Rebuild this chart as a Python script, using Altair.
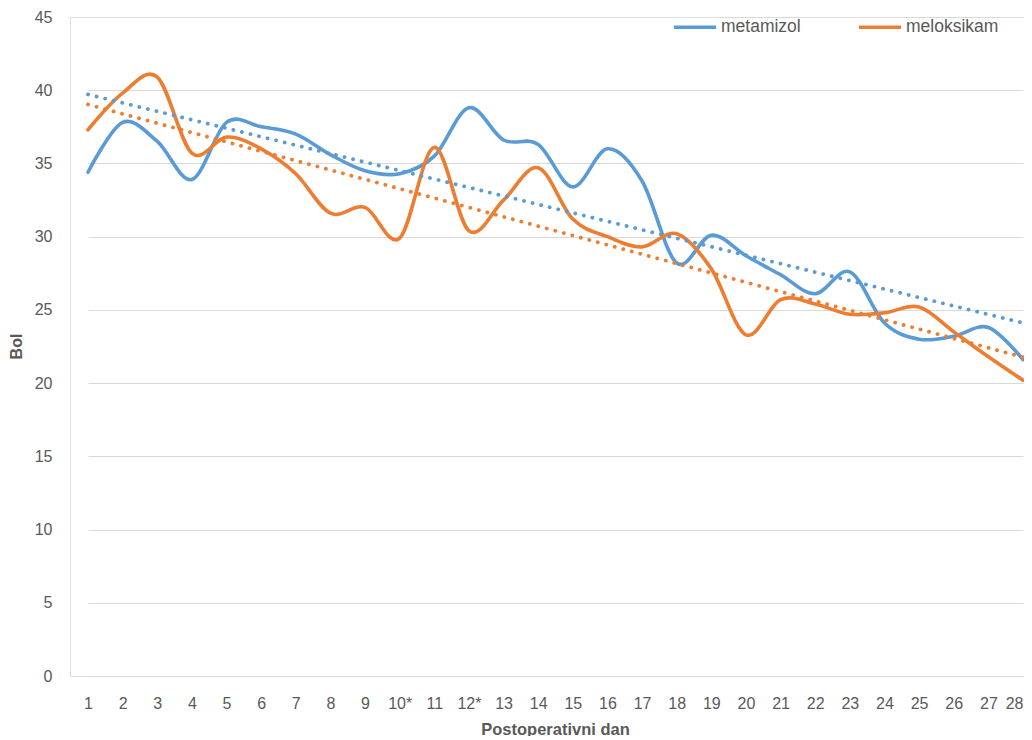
import json
import altair as alt
import pandas as pd

# ---- data ----
days = ["1", "2", "3", "4", "5", "6", "7", "8", "9", "10*", "11", "12*", "13", "14",
        "15", "16", "17", "18", "19", "20", "21", "22", "23", "24", "25", "26", "27", "28"]
metamizol = [34.4, 37.8, 36.5, 33.9, 37.8, 37.5, 37.0, 35.6, 34.5, 34.3, 35.5, 38.8, 36.6, 36.3,
             33.4, 36.0, 33.8, 28.2, 30.1, 28.7, 27.4, 26.1, 27.6, 24.1, 23.0, 23.2, 23.8, 21.6]
meloksikam = [37.3, 39.8, 40.9, 35.7, 36.8, 36.0, 34.3, 31.6, 32.0, 29.9, 36.1, 30.4, 32.5, 34.7,
              31.2, 30.0, 29.3, 30.2, 27.8, 23.3, 25.7, 25.4, 24.7, 24.8, 25.2, 23.5, 21.8, 20.2]
series_names = ["metamizol", "meloksikam"]
series_colors = ["#5B9BD5", "#ED7D31"]
y_ticks = [0, 5, 10, 15, 20, 25, 30, 35, 40, 45]

rows = []
for name, vals in zip(series_names, [metamizol, meloksikam]):
    for i, (d, v) in enumerate(zip(days, vals)):
        rows.append({"idx": i + 1, "day": d, "val": v, "series": name})
df = pd.DataFrame(rows)

FONT = "'Liberation Sans', Arial, sans-serif"
GRAY = "#595959"

x_scale = alt.Scale(type="point", domain=days, range=[18, 953], padding=0)
y_scale = alt.Scale(domain=[0, 45], nice=False, zero=True)
color_scale = alt.Scale(domain=series_names, range=series_colors)

x_axis = alt.Axis(
    labelAngle=0, labelOverlap=False,
    labelAlign={"condition": {"test": f"datum.value == '{days[-1]}'", "value": "right"}, "value": "center"},
    grid=False, domain=False, domainColor="#FFFFFF", domainWidth=0,
    ticks=False, tickSize=0,
    labelPadding=19, labelFontSize=16, labelColor=GRAY, labelFont=FONT,
    title="Postoperativni dan", titleFontSize=16.5, titleFontWeight="bold",
    titleColor=GRAY, titleFont=FONT, titleX=485, titleY=53,
    titleBaseline="middle", titleAlign="center",
)
y_axis = alt.Axis(
    values=y_ticks, grid=True, gridColor="#D9D9D9", gridWidth=1,
    domain=False, domainColor="#FFFFFF", domainWidth=0,
    ticks=False, tickSize=0,
    labelPadding=18, labelFontSize=16, labelColor=GRAY, labelFont=FONT,
    title="Bol", titleFontSize=16, titleFontWeight="bold", titleColor=GRAY,
    titleFont=FONT, titleX=-54, titleY=329, titleBaseline="middle",
    titleAlign="center", titleAngle=270,
)
legend = alt.Legend(
    orient="none", legendX=602, legendY=-13, direction="horizontal",
    title=None, symbolType="stroke", symbolSize=1764, symbolStrokeWidth=3.5,
    labelFontSize=17.5, labelColor=GRAY, labelFont=FONT, labelOffset=3,
    columnPadding=51,
)

base = alt.Chart(df)

lines = base.mark_line(
    interpolate="cardinal", strokeWidth=3.6, strokeCap="round"
).encode(
    x=alt.X("day:O", scale=x_scale, axis=x_axis),
    y=alt.Y("val:Q", scale=y_scale, axis=y_axis),
    color=alt.Color("series:N", scale=color_scale, legend=legend),
    order="idx:Q",
)

trend = base.transform_regression(
    "idx", "val", groupby=["series"], method="linear"
).transform_calculate(
    day=json.dumps(days) + "[datum.idx - 1]"
).mark_line(
    strokeWidth=3.8, strokeDash=[0.1, 8.7], strokeCap="round"
).encode(
    x=alt.X("day:O", scale=x_scale, axis=x_axis),
    y=alt.Y("val:Q", scale=y_scale, axis=y_axis),
    color=alt.Color("series:N", scale=color_scale, legend=legend),
    order="idx:Q",
)

chart = alt.layer(lines, trend).properties(
    width=954, height=659,
    autosize=alt.AutoSizeParams(type="none"),
    padding={"left": 62, "top": 9, "right": 0, "bottom": 60},
).configure_view(
    stroke="#FFFFFF", strokeWidth=0, strokeOpacity=0
).configure_axis(
    domain=False, ticks=False
).configure(background="white")

chart.save("out.html", embed_options={"renderer": "svg", "actions": False})
